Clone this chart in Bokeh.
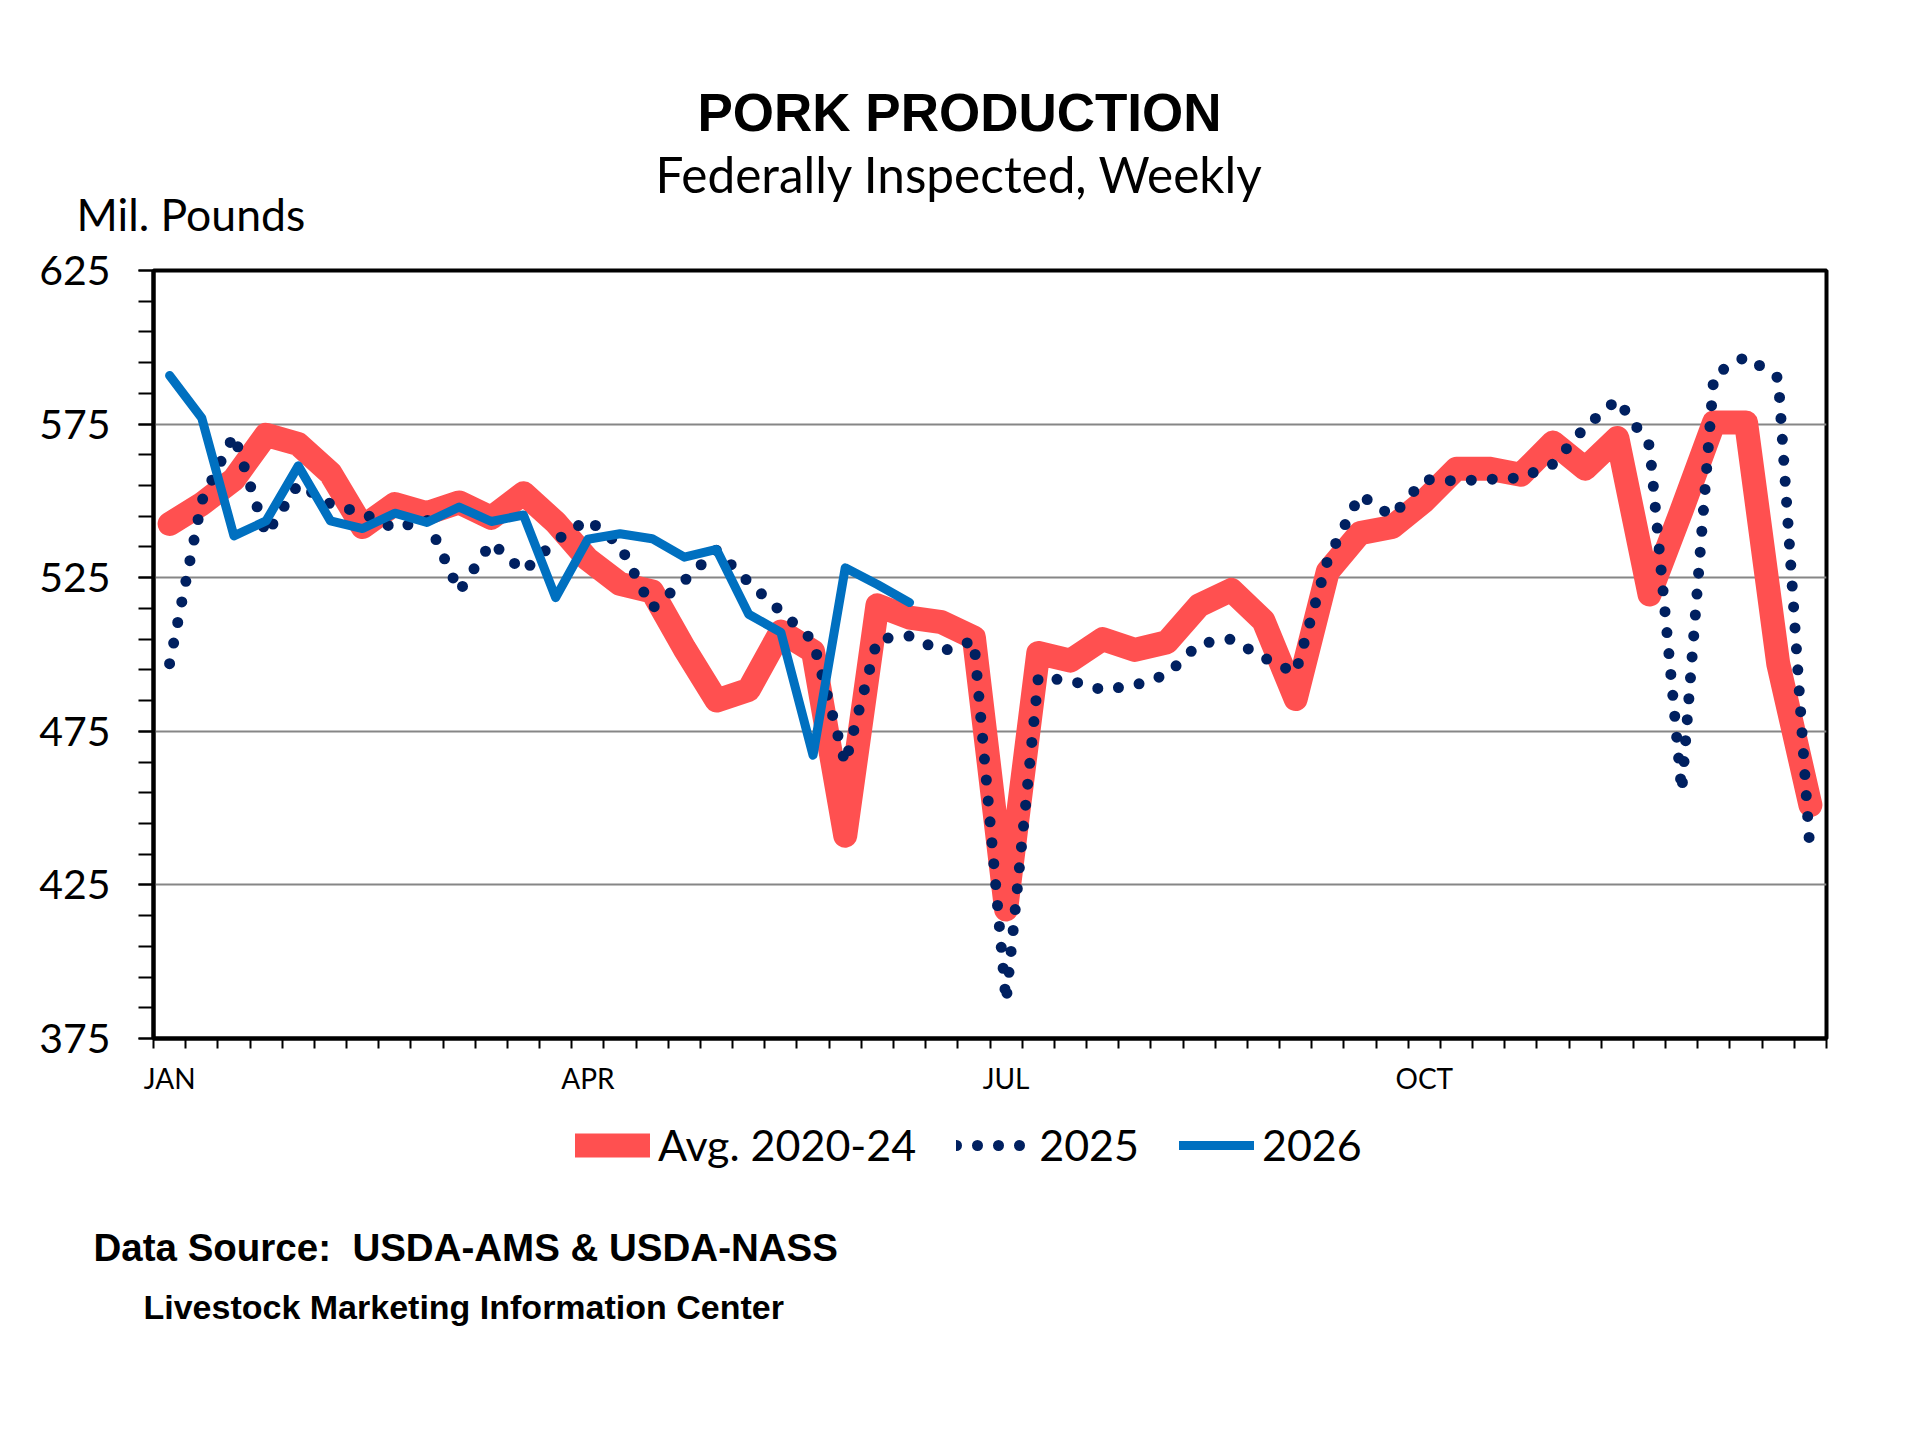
from bokeh.plotting import figure
from bokeh.models import Range1d, FixedTicker, Legend, LegendItem, Label
from bokeh.embed import file_html
from bokeh.resources import INLINE

# ---------------- data ----------------
weeks = list(range(1, 53))
month_ticks = [1, 14, 27, 40]
month_labels = ["JAN", "APR", "JUL", "OCT"]

avg_2020_24 = [542.5, 549, 557, 571.5, 568.5, 559, 541.5, 549, 546, 549.5,
               544.5, 552.5, 543, 531, 523, 520.5, 502, 485, 488.5, 507.5,
               501, 441, 516, 512, 510.5, 505.5, 417, 500.5, 498, 505,
               501.5, 504, 516, 521, 511, 485.5, 527, 539.5, 541.5, 550,
               560.5, 560.5, 558.5, 569, 560.5, 570.5, 519.5, 547, 575.5, 575.5,
               497, 451]

y2025 = [497, 550, 571.5, 539, 555.5, 549, 546, 541, 544, 520.5,
         536.5, 527, 537, 544, 535.5, 515, 524, 534, 523.5, 514,
         504.5, 464.5, 505, 506, 501, 504.5, 387, 492.5, 491.5, 488.5,
         490, 493.5, 503.5, 505, 499, 494, 531, 552, 545, 557,
         556.5, 557, 557.5, 562, 574, 583, 568, 455.5, 591, 597,
         590, 434]

y2026 = [590.8, 577, 538.6, 543.5, 561.4, 543.5, 541, 546, 543, 548,
         543.3, 545.4, 518.5, 537.5, 539.3, 537.7, 531.7, 534.2, 513.1, 507.2,
         467.2, 528.2, 522.8, 516.9]

series_names = ["Avg. 2020-24", "2025", "2026"]

y_major = [375, 425, 475, 525, 575, 625]
y_minor = list(range(375, 626, 10))
grid_vals = [425, 475, 525, 575]

RED = "#FF5050"
NAVY = "#002060"
BLUE = "#0070C0"

STYLE = {
    "Avg. 2020-24": dict(line_color=RED, line_width=24, line_cap="round", line_join="round"),
    "2025": dict(line_color=NAVY, line_width=11, line_dash="0 21", line_cap="round", line_join="round"),
    "2026": dict(line_color=BLUE, line_width=9, line_cap="round", line_join="round"),
}

W = 1900
HEAD_H, MAIN_H, FOOT_H = 246, 864, 310


def text_panel(height):
    f = figure(width=W, height=height, output_backend="svg", toolbar_location=None,
               x_range=Range1d(0, W), y_range=Range1d(height, 0),
               x_axis_location=None, y_axis_location=None,
               min_border=0)
    f.outline_line_color = None
    f.grid.visible = False
    f.background_fill_color = "white"
    f.border_fill_color = "white"
    return f


def add_text(f, text, x, baseline, font, size_px, align="left", style="normal"):
    # the label is placed slightly below its anchor; lift it so the baseline
    # lands where intended
    f.add_layout(Label(x=x, y=baseline - 0.38 * size_px, text=text, text_font=font,
                       text_font_size=f"{size_px}px", text_align=align,
                       text_baseline="alphabetic", text_font_style=style,
                       text_color="black"))


# ---------------- header ----------------
head = text_panel(HEAD_H)
add_text(head, "PORK PRODUCTION", 959, 132, "Liberation Sans", 53, "center", "bold")
add_text(head, "Federally Inspected, Weekly", 959, 192, "Lato", 49.5, "center")
add_text(head, "Mil. Pounds", 76, 230, "Lato", 44.5)

# ---------------- main chart ----------------
p = figure(width=W, height=MAIN_H, output_backend="svg", toolbar_location=None,
           x_range=Range1d(0.5, 52.5), y_range=Range1d(375, 625),
           min_border_left=153, min_border_right=74,
           min_border_top=24, min_border_bottom=72)
p.background_fill_color = "white"
p.border_fill_color = "white"
p.outline_line_color = "black"
p.outline_line_width = 4

p.yaxis.ticker = FixedTicker(ticks=y_major, minor_ticks=y_minor)
p.yaxis.major_tick_out = 15
p.yaxis.major_tick_in = 0
p.yaxis.minor_tick_out = 15
p.yaxis.minor_tick_in = 0
p.yaxis.major_tick_line_width = 2
p.yaxis.minor_tick_line_width = 2
p.yaxis.axis_line_width = 4
p.yaxis.major_label_standoff = 28
p.yaxis.major_label_text_font = "Lato"
p.yaxis.major_label_text_font_size = "41px"
p.yaxis.major_label_text_color = "black"

p.xaxis.ticker = FixedTicker(ticks=month_ticks,
                             minor_ticks=[w - 0.5 for w in weeks] + [52.5])
p.xaxis.major_label_overrides = {t: l for t, l in zip(month_ticks, month_labels)}
p.xaxis.major_tick_out = 0
p.xaxis.major_tick_in = 0
p.xaxis.minor_tick_out = 10
p.xaxis.minor_tick_in = 0
p.xaxis.minor_tick_line_width = 2
p.xaxis.axis_line_width = 4
p.xaxis.major_label_standoff = 12
p.xaxis.major_label_text_font = "Lato"
p.xaxis.major_label_text_font_size = "28px"
p.xaxis.major_label_text_color = "black"

p.xgrid.visible = False
p.ygrid.ticker = FixedTicker(ticks=grid_vals)
p.ygrid.grid_line_color = "#868686"
p.ygrid.grid_line_width = 2

p.line(weeks, avg_2020_24, **STYLE["Avg. 2020-24"])
p.line(weeks, y2025, **STYLE["2025"])
p.line(weeks[:len(y2026)], y2026, **STYLE["2026"])

# ---------------- footer (legend + source) ----------------
foot = text_panel(FOOT_H)
items = []
for name in series_names:
    # one invisible (NaN) point: the renderer only supplies the legend swatch style
    r = foot.line(x=[float("nan")], y=[float("nan")], **STYLE[name])
    items.append(LegendItem(label=name, renderers=[r]))
legend = Legend(items=items, orientation="horizontal", location=(575, 250),
                glyph_width=75, glyph_height=50, label_height=50,
                label_standoff=8, spacing=40, padding=0, margin=0,
                border_line_color=None, background_fill_alpha=0,
                label_text_font="Lato", label_text_font_size="43px",
                label_text_color="black")
foot.add_layout(legend, "center")

add_text(foot, "Data Source:\u00a0\u00a0USDA-AMS & USDA-NASS", 93, 152,
         "Liberation Sans", 38.5, "left", "bold")
add_text(foot, "Livestock Marketing Information Center", 143, 209,
         "Liberation Sans", 34, "left", "bold")

open("out.html", "w").write(file_html([head, p, foot], INLINE))
